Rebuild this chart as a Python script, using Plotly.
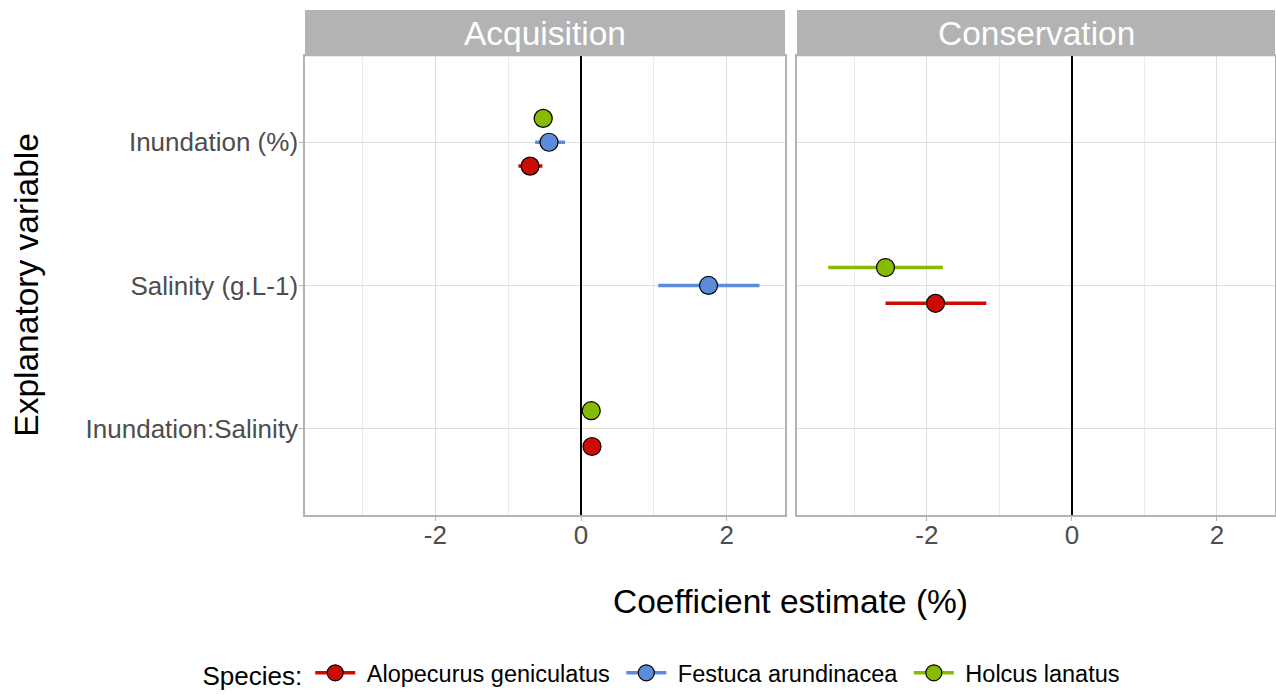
import plotly.graph_objects as go

# ---- data ----
panels = ["Acquisition", "Conservation"]
variables = ["Inundation (%)", "Salinity (g.L-1)", "Inundation:Salinity"]
species = ["Alopecurus geniculatus", "Festuca arundinacea", "Holcus lanatus"]
species_colors = ["#CC0C00", "#5B8CDB", "#85BC00"]

row_panel = ["Acquisition", "Acquisition", "Acquisition", "Acquisition",
             "Acquisition", "Acquisition", "Conservation", "Conservation"]
row_variable = ["Inundation (%)", "Inundation (%)", "Inundation (%)", "Salinity (g.L-1)",
                "Inundation:Salinity", "Inundation:Salinity",
                "Salinity (g.L-1)", "Salinity (g.L-1)"]
row_species = ["Alopecurus geniculatus", "Festuca arundinacea", "Holcus lanatus",
               "Festuca arundinacea", "Alopecurus geniculatus", "Holcus lanatus",
               "Alopecurus geniculatus", "Holcus lanatus"]
estimate = [-0.70, -0.44, -0.52, 1.75, 0.15, 0.14, -1.88, -2.57]
lower = [-0.86, -0.63, -0.65, 1.06, 0.06, 0.05, -2.57, -3.36]
upper = [-0.53, -0.22, -0.39, 2.45, 0.24, 0.23, -1.18, -1.78]

x_ticks = [-2, 0, 2]

# ---- layout geometry ----
W, H = 1276, 695
font = "Arial, Liberation Sans, sans-serif"
px_x = lambda p: p / W
px_y = lambda p: 1 - p / H
dom_left = [px_x(305), px_x(785)]
dom_right = [px_x(797), px_x(1275)]
ydom = [px_y(520.5), px_y(57)]

# category positions (top to bottom)
ypos = {v: len(variables) - i for i, v in enumerate(variables)}

# dodge within each panel/variable group (width 0.5)
dodge = []
for k in range(len(estimate)):
    grp = [j for j in range(len(estimate))
           if row_panel[j] == row_panel[k] and row_variable[j] == row_variable[k]]
    grp.sort(key=lambda j: species.index(row_species[j]))
    n = len(grp)
    i = grp.index(k)
    dodge.append(ypos[row_variable[k]] + (i - (n - 1) / 2) * 0.5 / n)

fig = go.Figure()
for pi, panel in enumerate(panels):
    xa = "x" if pi == 0 else "x2"
    ya = "y" if pi == 0 else "y2"
    for si, sp in enumerate(species):
        idx = [k for k in range(len(estimate)) if row_panel[k] == panel and row_species[k] == sp]
        if not idx:
            continue
        xs = [estimate[k] for k in idx]
        fig.add_trace(go.Scatter(
            x=xs, y=[dodge[k] for k in idx], xaxis=xa, yaxis=ya,
            mode="markers", showlegend=False,
            marker=dict(size=18, color=species_colors[si], line=dict(color="black", width=1.2)),
            error_x=dict(type="data", symmetric=False,
                         array=[upper[k] - estimate[k] for k in idx],
                         arrayminus=[estimate[k] - lower[k] for k in idx],
                         color=species_colors[si], thickness=3.5, width=0),
        ))

for si, sp in enumerate(species):
    fig.add_trace(go.Scatter(
        x=[None], y=[None], mode="lines+markers", name="\u00a0" + sp + "\u00a0",
        line=dict(color=species_colors[si], width=3.5),
        marker=dict(size=17, color=species_colors[si], line=dict(color="black", width=1.2)),
    ))

xaxis_common = dict(
    range=[-3.79, 2.80], tickvals=x_ticks, ticktext=[str(t) for t in x_ticks],
    showgrid=True, gridcolor="#DEDEDE", gridwidth=1,
    minor=dict(dtick=1, tick0=0, showgrid=True, gridcolor="#EBEBEB", gridwidth=0.7),
    zeroline=True, zerolinecolor="black", zerolinewidth=2,
    showline=True, mirror=True, linecolor="#B3B3B3", linewidth=1.5,
    ticks="outside", ticklen=5, tickcolor="#B3B3B3", tickwidth=1,
    ticklabelstandoff=-8,
    tickfont=dict(family=font, size=26, color="#4D4D4D"),
    automargin=False, fixedrange=True,
)
yaxis_common = dict(
    range=[0.4, 3.6], tickvals=[ypos[v] for v in variables], ticktext=variables,
    showgrid=True, gridcolor="#DEDEDE", gridwidth=1, zeroline=False,
    showline=True, mirror=True, linecolor="#B3B3B3", linewidth=1.5,
    automargin=False, fixedrange=True, domain=ydom,
)

fig.update_layout(
    width=W, height=H, autosize=False,
    margin=dict(l=0, r=0, t=0, b=0),
    paper_bgcolor="white", plot_bgcolor="white",
    font=dict(family=font),
    xaxis=dict(domain=dom_left, anchor="y", **xaxis_common),
    xaxis2=dict(domain=dom_right, anchor="y2", **xaxis_common),
    yaxis=dict(anchor="x", ticks="outside", ticklen=4, tickcolor="#B3B3B3",
               ticklabelstandoff=-4,
               tickfont=dict(family=font, size=26, color="#4D4D4D"), **yaxis_common),
    yaxis2=dict(anchor="x2", matches="y", showticklabels=False, ticks="", **yaxis_common),
    legend=dict(orientation="h", x=px_x(666), xanchor="center", y=px_y(681), yanchor="middle",
                font=dict(family=font, size=23.5, color="black"),
                title=dict(text="Species:", side="left", font=dict(family=font, size=26, color="black")),
                itemwidth=40, tracegroupgap=0),
)

# facet strips
for dom, label in zip([dom_left, dom_right], panels):
    fig.add_shape(type="rect", xref="paper", yref="paper",
                  x0=dom[0], x1=dom[1], y0=px_y(57), y1=px_y(10),
                  fillcolor="#B3B3B3", line=dict(width=0), layer="below")
    fig.add_annotation(text=label, xref="paper", yref="paper",
                       x=(dom[0] + dom[1]) / 2, y=px_y(33.5), xanchor="center", yanchor="middle",
                       showarrow=False, font=dict(family=font, size=33.5, color="white"))

# axis titles
fig.add_annotation(text="Coefficient estimate (%)", xref="paper", yref="paper",
                   x=px_x(790), y=px_y(608), xanchor="center", yanchor="middle",
                   showarrow=False, font=dict(family=font, size=33.5, color="black"))
fig.add_annotation(text="Explanatory variable", xref="paper", yref="paper",
                   x=px_x(27), y=px_y(288), xanchor="center", yanchor="middle", textangle=-90,
                   showarrow=False, font=dict(family=font, size=33.5, color="black"))

fig.write_html("out.html",
               config=dict(displayModeBar=False, responsive=False),
               post_script="document.body.style.margin='0';document.body.style.overflow='hidden';")
